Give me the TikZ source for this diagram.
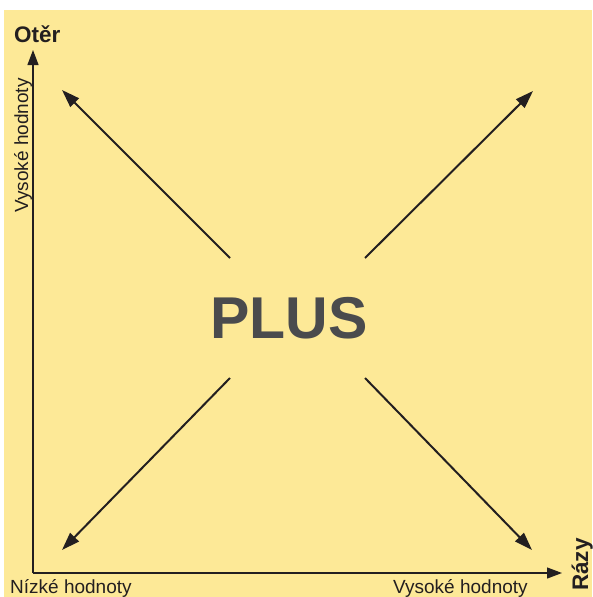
\documentclass[tikz,border=0pt]{standalone}
\usepackage{fontspec}
\setmainfont{Liberation Sans}
\usetikzlibrary{arrows.meta}
\definecolor{pale}{RGB}{253,233,151}
\definecolor{ink}{RGB}{35,31,32}
\definecolor{plusgray}{RGB}{74,75,77}

\begin{document}
\begin{tikzpicture}[x=1pt, y=-1pt,
    axis/.style={ink, line width=1.2pt, -{Triangle[length=15pt, width=11pt]}},
    ray/.style={ink, line width=2pt, -{Triangle[length=18pt, width=12pt]}},
    lbl/.style={inner sep=0pt, text=ink, font=\fontsize{19}{22}\selectfont},
    ttl/.style={inner sep=0pt, text=ink, font=\fontsize{22.5}{25}\selectfont\bfseries}]
    \useasboundingbox (0,0) rectangle (592,597);
    \fill[pale] (4,10) rectangle (592,597);
    % axes
    \coordinate (orig) at (33,573);
    \coordinate (ytop) at (33,50);
    \coordinate (xend) at (562,573);
    \draw[axis] (orig) -- (ytop);
    \draw[axis] (orig) -- (xend);
    \node[ttl, anchor=base west] (oter) at (14,42) {Otěr};
    \node[ttl, anchor=base west, rotate=90] (razy) at (588,591) {Rázy};
    \node[lbl, anchor=base west, rotate=90] (yhigh) at (28,213) {Vysoké hodnoty};
    \node[lbl, anchor=base west] (low) at (10,593) {Nízké hodnoty};
    \node[lbl, anchor=base west] (xhigh) at (393,593) {Vysoké hodnoty};
    % centre
    \node[inner sep=0pt, text=plusgray, font=\fontsize{59}{66}\selectfont\bfseries] (plus) at (289,318) {PLUS};
    % four rays
    \coordinate (nw0) at (230,258);
    \coordinate (nw1) at (62,90);
    \coordinate (ne0) at (365,258);
    \coordinate (ne1) at (533,91);
    \coordinate (sw0) at (230,378);
    \coordinate (sw1) at (62,550);
    \coordinate (se0) at (365,378);
    \coordinate (se1) at (532,550);
    \draw[ray] (nw0) -- (nw1);
    \draw[ray] (ne0) -- (ne1);
    \draw[ray] (sw0) -- (sw1);
    \draw[ray] (se0) -- (se1);
\end{tikzpicture}
\end{document}
